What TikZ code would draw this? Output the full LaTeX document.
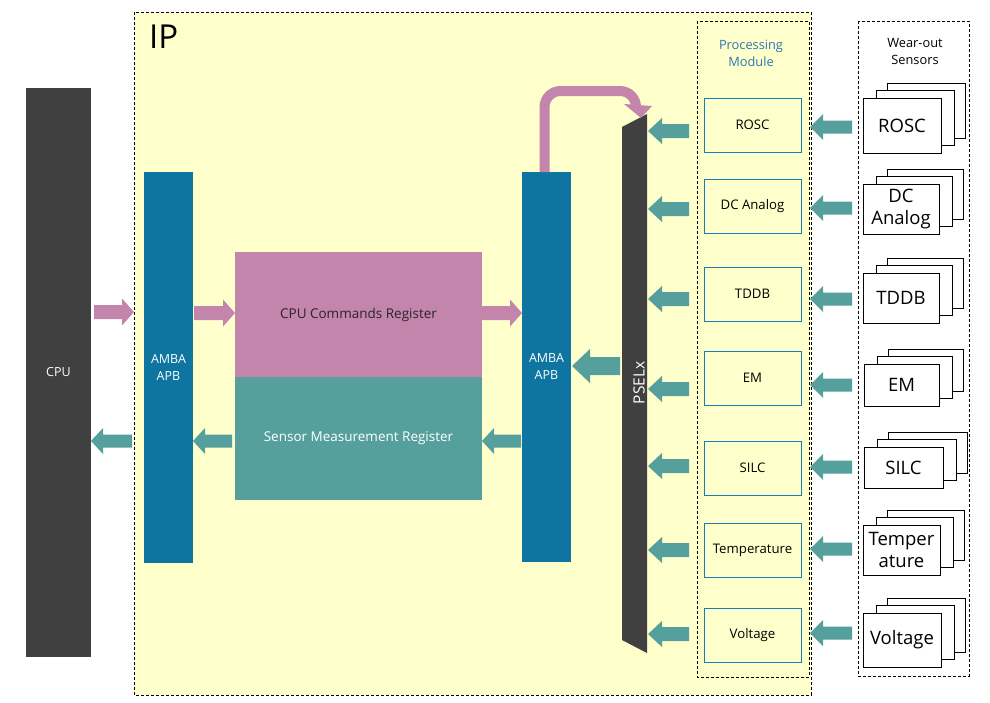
\documentclass[tikz,border=0pt]{standalone}
\usepackage{fontspec}
\setmainfont{Open Sans}
\definecolor{ipyellow}{HTML}{FFFFCC}
\definecolor{cpugray}{HTML}{404040}
\definecolor{ambablue}{HTML}{0E75A0}
\definecolor{pinkc}{HTML}{C485AD}
\definecolor{tealc}{HTML}{55A09D}
\definecolor{pmblue}{HTML}{1B7BB5}
\definecolor{titleblue}{HTML}{2E75B6}
\newcommand{\blockarr}[7]{%
  \fill[#1] (#2,#4) -- ({#2+#7},{#4-#6}) -- ({#2+#7},{#4-#5}) -- (#3,{#4-#5})
    -- (#3,{#4+#5}) -- ({#2+#7},{#4+#5}) -- ({#2+#7},{#4+#6}) -- cycle;}
\newcommand{\sstack}[6]{%
  \draw[sback] ({#2+24},{#3-15}) rectangle ({#4+24},{#5-15});
  \draw[sback] ({#2+13},{#3-8}) rectangle ({#4+13},{#5-8});
  \node[sfront, minimum width={#4-#2}, minimum height={#5-#3}] (#1) at ({(#2+#4)/2},{(#3+#5)/2}) {#6};}
\begin{document}
\begin{tikzpicture}[x=1pt,y=-1pt,
  dbox/.style={draw=black, line width=0.8pt, dash pattern=on 3pt off 2pt},
  solidblk/.style={inner sep=0pt, outer sep=0pt, align=center, font=\fontsize{12.5}{17}\selectfont},
  pmbox/.style={draw=pmblue, line width=1pt, fill=ipyellow, inner sep=0pt, outer sep=0pt,
     minimum width=97, minimum height=54, font=\fontsize{13.2}{17}\selectfont},
  sback/.style={draw=black, line width=0.9pt, fill=white},
  sfront/.style={draw=black, line width=0.9pt, fill=white, inner sep=0pt, outer sep=0pt,
     align=center, font=\fontsize{18.5}{22}\selectfont}]
\useasboundingbox (0,0) rectangle (990,702);
\fill[white] (0,0) rectangle (990,702);
% IP region
\draw[dbox, fill=ipyellow] (134,12) rectangle (811,695);
\node[anchor=west, inner sep=0pt, font=\fontsize{33}{36}\selectfont] (ip) at (149,37) {IP};
% CPU
\node[solidblk, fill=cpugray, text=white, minimum width=65, minimum height=569] (cpu) at (58.5,372.5) {CPU};
% AMBA blocks
\node[solidblk, fill=ambablue, text=white, minimum width=49, minimum height=391] (amba1) at (168.5,367.5) {AMBA\\APB};
\node[solidblk, fill=ambablue, text=white, minimum width=49, minimum height=390] (amba2) at (546.5,367) {AMBA\\APB};
% Registers
\node[solidblk, fill=pinkc, text=black!85, minimum width=247, minimum height=125, font=\fontsize{13.5}{17}\selectfont] (cmd) at (358.5,314.5) {CPU Commands Register};
\node[solidblk, fill=tealc, text=white, minimum width=247, minimum height=123, font=\fontsize{13.5}{17}\selectfont] (meas) at (358.5,438.5) {Sensor Measurement Register};
% PSELx
\fill[cpugray] (622,127) -- (647,114) -- (647,653) -- (622,640) -- cycle;
\node[rotate=90, text=white, inner sep=0pt, font=\fontsize{15.5}{18}\selectfont] (psel) at (639,383) {PSELx};
% Processing module
\draw[dbox] (697,21) rectangle (809,677);
\node[text=titleblue, align=center, font=\fontsize{12.8}{17}\selectfont] (pmt) at (751,53) {Processing\\Module};
\node[pmbox] (p1) at (752.5,125) {ROSC};
\node[pmbox] (p2) at (752.5,206) {DC Analog};
\node[pmbox] (p3) at (752.5,294) {TDDB};
\node[pmbox] (p4) at (752.5,378) {EM};
\node[pmbox] (p5) at (752.5,468) {SILC};
\node[pmbox] (p6) at (752.5,550) {Temperature};
\node[pmbox] (p7) at (752.5,635) {Voltage};
% Wear-out sensors
\draw[dbox] (858,21) rectangle (969,676);
\node[align=center, font=\fontsize{12.8}{17}\selectfont] (wst) at (915,51) {Wear-out\\Sensors};
\sstack{s1}{863}{98}{941}{153}{ROSC}
\sstack{s2}{863}{184}{939}{234}{DC\\Analog}
\sstack{s3}{863}{273}{939}{323}{TDDB}
\sstack{s4}{864}{364}{939}{406}{EM}
\sstack{s5}{864}{447}{943}{488}{SILC}
\sstack{s6}{863}{525}{940}{575}{Temper\\ature}
\sstack{s7}{863}{613}{941}{667}{Voltage}
% pink arrows (right)
\blockarr{pinkc}{134}{94}{312}{7}{13.5}{-12}
\blockarr{pinkc}{235}{194}{313}{7}{13.5}{-12}
\blockarr{pinkc}{522}{482}{313}{7}{13.5}{-12}
% teal arrows (left)
\blockarr{tealc}{91}{132}{441}{6.5}{13}{12}
\blockarr{tealc}{193}{232}{441}{6.5}{13}{12}
\blockarr{tealc}{482}{521}{441}{6.5}{13}{12}
\blockarr{tealc}{572}{620}{366}{9}{17}{18}
\foreach \yy in {131,209,299,389,466,550,634}{
  \blockarr{tealc}{648}{689}{\yy}{7}{13}{14}
}
\foreach \yy in {127,208,299,385,467,549,633}{
  \blockarr{tealc}{810}{852}{\yy}{6.5}{13}{13}
}
% pink bent arrow from right AMBA to PSELx
\draw[pinkc, line width=10pt, rounded corners=16pt] (amba2.north -| 544.5,172) -- (544.5,91) -- (636,91) -- (636,106);
\fill[pinkc] (624,104) -- (652,106) -- (641,118) -- cycle;
\end{tikzpicture}
\end{document}
